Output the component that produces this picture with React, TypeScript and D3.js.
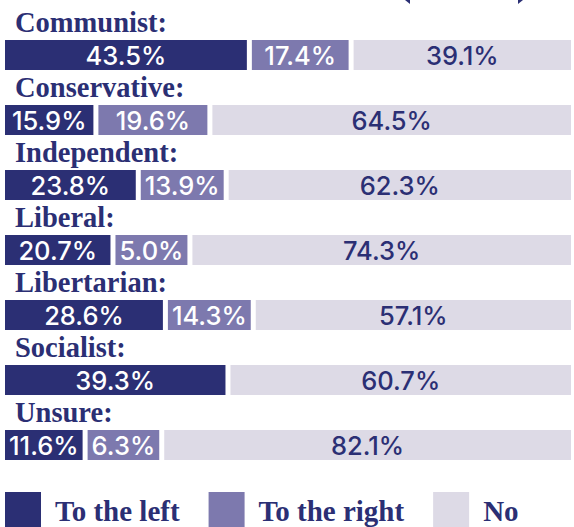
import React from 'react';
import * as d3 from 'd3';

const categories = ['Communist:', 'Conservative:', 'Independent:', 'Liberal:', 'Libertarian:', 'Socialist:', 'Unsure:'];
const toTheLeft = [43.5, 15.9, 23.8, 20.7, 28.6, 39.3, 11.6];
const toTheRight = [17.4, 19.6, 13.9, 5.0, 14.3, 0, 6.3];
const no = [39.1, 64.5, 62.3, 74.3, 57.1, 60.7, 82.1];
const seriesNames = ['To the left', 'To the right', 'No'];

const W = 574;
const H = 527;
const colors = ['#2b2f74', '#7d79ae', '#dddae6'];
const textColors = ['#ffffff', '#ffffff', '#2b2f74'];
const navy = '#2b2f74';
const valueFont = { family: 'Inter', weight: 500, size: 25.5, spacing: 0 };
const serif = '"Liberation Serif", "Times New Roman", serif';

let ctx: CanvasRenderingContext2D | null = null;
function measure(s: string, font: string, spacing = 0) {
  if (!ctx) ctx = document.createElement('canvas').getContext('2d');
  if (!ctx) return s.length * 12;
  ctx.font = font;
  return ctx.measureText(s).width + spacing * s.length;
}

function allocate(vals: number[], mins: number[], avail: number) {
  const fixed = vals.map(() => false);
  let widths: number[] = vals.map(() => 0);
  for (let iter = 0; iter < 6; iter++) {
    const fixedSum = d3.sum(vals.map((v, i) => (v > 0 && fixed[i] ? mins[i] : 0)));
    const freeTotal = d3.sum(vals.map((v, i) => (v > 0 && !fixed[i] ? v : 0)));
    const x = d3.scaleLinear().domain([0, freeTotal]).range([0, avail - fixedSum]);
    widths = vals.map((v, i) => (v <= 0 ? 0 : fixed[i] ? mins[i] : x(v)));
    let changed = false;
    widths.forEach((w, i) => {
      if (vals[i] > 0 && !fixed[i] && w < mins[i]) {
        fixed[i] = true;
        changed = true;
      }
    });
    if (!changed) break;
  }
  return widths;
}

export default function App() {
  const x0 = 5;
  const x1 = 571;
  const gap = 5;
  const barH = 30;
  const y = d3.scaleBand<string>().domain(categories).range([40, 40 + 65 * categories.length]).padding(0);
  const vf = `${valueFont.weight} ${valueFont.size}px ${valueFont.family}`;
  const fmt = (v: number) => `${v.toFixed(1)}%`;

  const rows = categories.map((c, i) => {
    const vals = [toTheLeft[i], toTheRight[i], no[i]];
    const n = vals.filter((v) => v > 0).length;
    const avail = x1 - x0 - gap * (n - 1);
    const mins = vals.map((v) => measure(fmt(v), vf, valueFont.spacing) + 8);
    const widths = allocate(vals, mins, avail);
    let cx = x0;
    const segs: { x: number; w: number; v: number; k: number }[] = [];
    vals.forEach((v, k) => {
      if (v <= 0) return;
      segs.push({ x: cx, w: widths[k], v, k });
      cx += widths[k] + gap;
    });
    return { c, segs, top: y(c) as number };
  });

  const legendFont = `bold 29px ${serif}`;
  let lx = 5;
  const legend = seriesNames.map((name, k) => {
    const item = { name, k, x: lx };
    lx += 50 + measure(name, legendFont) + 29;
    return item;
  });

  return (
    <svg width={W} height={H} style={{ position: 'absolute', left: 0, top: 0, display: 'block' }}>
      <rect width={W} height={H} fill="#ffffff" />
      <path d="M405,0 L410,0 L410,4 Z" fill={navy} />
      <path d="M518,0 L523,0 L518,4 Z" fill={navy} />
      {rows.map((r) => (
        <g key={r.c}>
          <text x={15} y={r.top - 8} fontFamily={serif} fontWeight="bold" fontSize={28.5} fill={navy}>
            {r.c}
          </text>
          {r.segs.map((s) => (
            <g key={s.k}>
              <rect x={s.x} y={r.top} width={s.w} height={barH} fill={colors[s.k]} />
              <text
                x={s.x + s.w / 2}
                y={r.top + 24.5}
                textAnchor="middle"
                fontFamily={valueFont.family}
                fontWeight={valueFont.weight}
                fontSize={valueFont.size}
                letterSpacing={valueFont.spacing}
                fill={textColors[s.k]}
              >
                {fmt(s.v)}
              </text>
            </g>
          ))}
        </g>
      ))}
      {legend.map((l) => (
        <g key={l.name}>
          <rect x={l.x} y={492} width={36} height={36} fill={colors[l.k]} />
          <text x={l.x + 50} y={521} fontFamily={serif} fontWeight="bold" fontSize={29} fill={navy}>
            {l.name}
          </text>
        </g>
      ))}
    </svg>
  );
}
